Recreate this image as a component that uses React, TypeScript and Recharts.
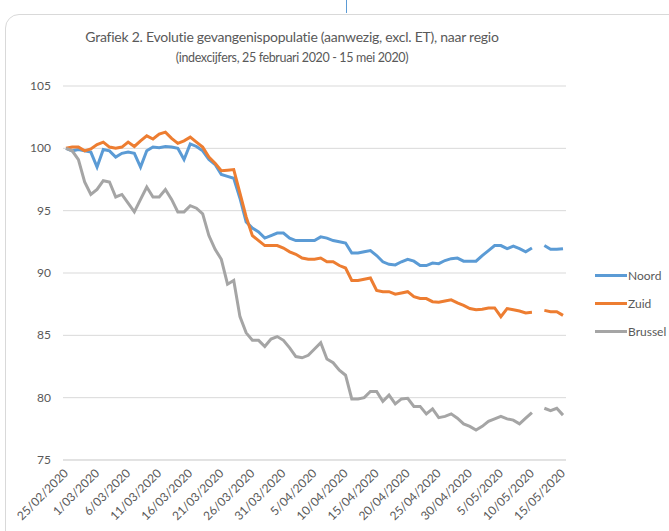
import React from 'react';
import { LineChart, Line, XAxis, YAxis, CartesianGrid } from 'recharts';

// dagelijkse datums 25/02/2020 - 15/05/2020
const dates: string[] = Array.from({ length: 81 }, (_, i) => {
  const d = new Date(2020, 1, 25 + i);
  return `${d.getDate()}/${String(d.getMonth() + 1).padStart(2, '0')}/2020`;
});

const noord = [
  100, 99.8, 99.9, 99.8, 99.7, 98.5, 99.9, 99.8, 99.3, 99.6,
  99.7, 99.6, 98.5, 99.8, 100.1, 100.05, 100.15, 100.1, 100.0, 99.1,
  100.35, 100.15, 99.8, 99.1, 98.7, 97.9, 97.75, 97.6, 96.0, 94.1,
  93.6, 93.3, 92.8, 93.0, 93.2, 93.2, 92.8, 92.6, 92.6, 92.6,
  92.6, 92.9, 92.8, 92.6, 92.5, 92.4, 91.6, 91.6, 91.7, 91.8,
  91.4, 90.9, 90.7, 90.65, 90.9, 91.1, 90.95, 90.6, 90.6, 90.8,
  90.75, 91.0, 91.15, 91.2, 90.95, 90.95, 90.95, 91.4, 91.8, 92.2,
  92.2, 91.95, 92.15, 91.95, 91.7, 92.0, null, 92.2, 91.9, 91.9, 91.95,
];

const zuid = [
  100, 100.1, 100.1, 99.8, 99.95, 100.3, 100.5, 100.1, 100.0, 100.1,
  100.5, 100.15, 100.6, 101.0, 100.75, 101.15, 101.3, 100.8, 100.4, 100.6,
  100.9, 100.5, 100.1, 99.3, 98.8, 98.2, 98.25, 98.3, 96.4, 94.5,
  93.0, 92.6, 92.2, 92.2, 92.2, 92.0, 91.7, 91.5, 91.2, 91.1,
  91.1, 91.2, 90.9, 90.9, 90.6, 90.4, 89.4, 89.4, 89.5, 89.6,
  88.6, 88.5, 88.5, 88.3, 88.4, 88.5, 88.1, 87.95, 87.95, 87.7,
  87.65, 87.75, 87.85, 87.6, 87.4, 87.15, 87.05, 87.1, 87.2, 87.2,
  86.5, 87.15, 87.05, 86.95, 86.8, 86.85, null, 87.0, 86.9, 86.9, 86.6,
];

const brussel = [
  100, 99.8, 99.1, 97.3, 96.3, 96.7, 97.4, 97.3, 96.1, 96.3,
  95.6, 94.9, 95.9, 96.9, 96.1, 96.1, 96.7, 95.9, 94.9, 94.9,
  95.4, 95.2, 94.75, 93.0, 91.9, 91.1, 89.1, 89.4, 86.5, 85.2,
  84.6, 84.6, 84.1, 84.7, 84.9, 84.6, 84.0, 83.3, 83.2, 83.4,
  83.9, 84.4, 83.1, 82.8, 82.2, 81.8, 79.9, 79.9, 80.0, 80.5,
  80.5, 79.7, 80.2, 79.5, 79.9, 79.95, 79.3, 79.3, 78.7, 79.1,
  78.4, 78.5, 78.7, 78.35, 77.9, 77.7, 77.4, 77.7, 78.1, 78.3,
  78.5, 78.3, 78.2, 77.9, 78.35, 78.8, null, 79.15, 78.95, 79.15, 78.6,
];

const yTicks = [75, 80, 85, 90, 95, 100, 105];

const series = [
  { key: 'Noord', color: '#5B9BD5' },
  { key: 'Zuid', color: '#ED7D31' },
  { key: 'Brussel', color: '#A5A5A5' },
];

const data = dates.map((date, i) => ({
  date,
  Noord: noord[i],
  Zuid: zuid[i],
  Brussel: brussel[i],
}));

const FONT = 'Lato, "Open Sans", sans-serif';
const TEXT = '#595959';

const XTick = ({ x, y, payload }: any) => (
  <text
    x={x + 3}
    y={y + 6}
    transform={`rotate(-45 ${x + 3} ${y + 6})`}
    textAnchor="end"
    fill={TEXT}
    fontSize={12}
    fontFamily={FONT}
  >
    {payload.value}
  </text>
);

const YTick = ({ x, y, payload }: any) => (
  <text x={x - 4} y={y} dy={4} textAnchor="end" fill={TEXT} fontSize={12} fontFamily={FONT}>
    {payload.value}
  </text>
);

export default function App() {
  return (
    <div style={{ position: 'absolute', left: 0, top: 0, width: 669, height: 531, overflow: 'hidden', background: '#fff', fontFamily: FONT }}>
      {/* kader */}
      <div style={{ position: 'absolute', left: 5, top: 14, width: 700, height: 560, border: '1px solid #d9d9d9', borderRadius: 14 }} />
      <div style={{ position: 'absolute', left: 346, top: 0, width: 1, height: 13, background: '#5B9BD5' }} />

      <div style={{ position: 'absolute', left: 0, width: 584, top: 27, textAlign: 'center', color: TEXT, fontSize: 14, letterSpacing: -0.25, lineHeight: '20px' }}>
        Grafiek 2. Evolutie gevangenispopulatie (aanwezig, excl. ET), naar regio
      </div>
      <div style={{ position: 'absolute', left: 0, width: 584, top: 48, textAlign: 'center', color: TEXT, fontSize: 12.5, letterSpacing: -0.35, lineHeight: '20px' }}>
        (indexcijfers, 25 februari 2020 - 15 mei 2020)
      </div>

      <div style={{ position: 'absolute', left: 0, top: 0 }}>
        <LineChart width={669} height={531} data={data} margin={{ top: 86, right: 103, bottom: 6, left: 23 }}>
          <CartesianGrid vertical={false} stroke="#d9d9d9" />
          <XAxis
            dataKey="date"
            interval={4}
            height={65}
            padding={{ left: 3, right: 3 }}
            axisLine={{ stroke: '#d9d9d9' }}
            tickLine={false}
            tick={<XTick />}
          />
          <YAxis
            domain={[75, 105]}
            ticks={yTicks}
            width={40}
            axisLine={false}
            tickLine={false}
            tick={<YTick />}
          />
          {series.map((s) => (
            <Line
              key={s.key}
              type="linear"
              dataKey={s.key}
              stroke={s.color}
              strokeWidth={3}
              dot={false}
              connectNulls={false}
              isAnimationActive={false}
            />
          ))}
        </LineChart>
      </div>

      {/* legende */}
      {series.map((s, i) => (
        <div key={s.key} style={{ position: 'absolute', left: 595, top: 266 + i * 28, height: 18, display: 'flex', alignItems: 'center', color: TEXT, fontSize: 12 }}>
          <span style={{ display: 'inline-block', width: 32, height: 3, background: s.color, marginRight: 1 }} />
          {s.key}
        </div>
      ))}
    </div>
  );
}
